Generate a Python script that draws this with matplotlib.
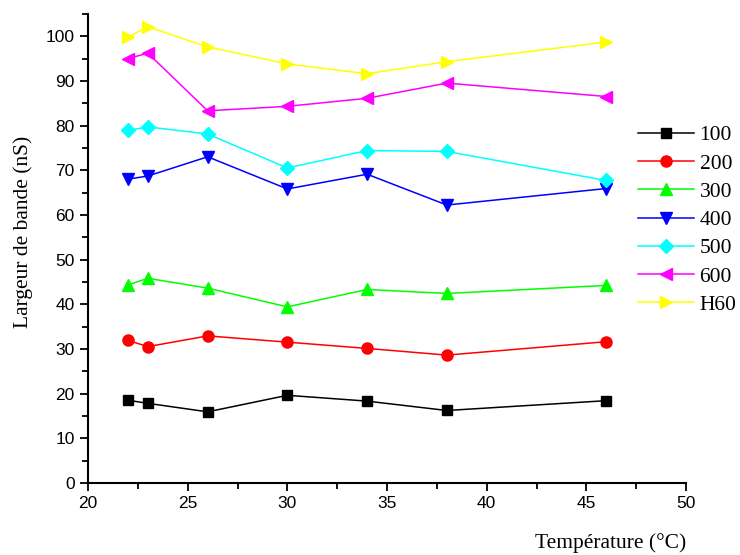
import matplotlib
matplotlib.use("Agg")
import matplotlib.pyplot as plt
from matplotlib.ticker import MultipleLocator

temps = [22, 23, 26, 30, 34, 38, 46]
s100 = [18.5, 17.8, 15.9, 19.6, 18.3, 16.2, 18.4]
s200 = [31.9, 30.5, 32.9, 31.5, 30.1, 28.6, 31.6]
s300 = [44.3, 45.8, 43.6, 39.4, 43.3, 42.4, 44.2]
s400 = [68.0, 68.7, 73.0, 65.8, 69.1, 62.2, 65.9]
s500 = [78.9, 79.7, 78.1, 70.5, 74.4, 74.2, 67.7]
s600 = [95.0, 96.2, 83.3, 84.3, 86.1, 89.5, 86.5]
sH60 = [99.8, 102.1, 97.6, 93.8, 91.6, 94.3, 98.7]

names = ['100', '200', '300', '400', '500', '600', 'H60']
series = [s100, s200, s300, s400, s500, s600, sH60]
colors = ['#000000', '#ff0000', '#00ff00', '#0000ff', '#00ffff', '#ff00ff', '#ffff00']
markers = ['s', 'o', '^', 'v', 'D', '<', '>']
msizes = [7, 8, 8.5, 8.5, 7.5, 8.5, 8.5]

tick_font = ['Liberation Sans Narrow', 'Liberation Sans', 'DejaVu Sans']
serif_font = ['Liberation Serif', 'DejaVu Serif']

fig = plt.figure(figsize=(7.4, 5.55), dpi=100)
ax = fig.add_axes([0.119, 0.130, 0.808, 0.845])

for name, vals, c, m, ms in zip(names, series, colors, markers, msizes):
    ax.plot(temps, vals, color=c, marker=m, markersize=ms, linewidth=1.1,
            markeredgecolor=c, label=name)

ax.set_xlim(20, 50)
ax.set_ylim(0, 105)
ax.xaxis.set_major_locator(MultipleLocator(5))
ax.xaxis.set_minor_locator(MultipleLocator(2.5))
ax.yaxis.set_major_locator(MultipleLocator(10))
ax.yaxis.set_minor_locator(MultipleLocator(5))
ax.spines['top'].set_visible(False)
ax.spines['right'].set_visible(False)
ax.spines['left'].set_linewidth(1.5)
ax.spines['bottom'].set_linewidth(1.5)
ax.tick_params(which='major', direction='out', length=6, width=1.3)
ax.tick_params(which='minor', direction='out', length=4, width=1.3)
for lab in ax.get_xticklabels() + ax.get_yticklabels():
    lab.set_family(tick_font)
    lab.set_fontsize(12.5)

ax.set_ylabel('Largeur de bande (nS)', family=serif_font, fontsize=15.5)
ax.yaxis.set_label_coords(-0.092, 0.535)
ax.set_xlabel('Température (°C)', family=serif_font, fontsize=15.5)
ax.xaxis.set_label_coords(1.0, -0.108)
ax.xaxis.label.set_horizontalalignment('right')

leg = ax.legend(loc='upper left', bbox_to_anchor=(0.836, 0.809), bbox_transform=fig.transFigure,
                frameon=False, prop={'family': serif_font, 'size': 15.5},
                handlelength=2.6, labelspacing=0.38, handletextpad=0.26)

fig.savefig('out.png', dpi=100)
